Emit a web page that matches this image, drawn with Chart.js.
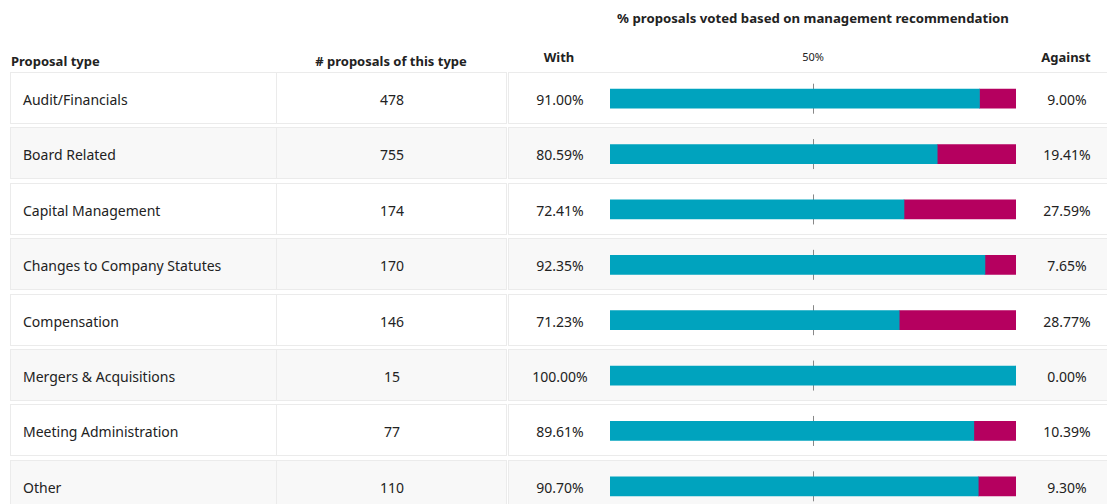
<html>
<head>
<script src="https://cdn.jsdelivr.net/npm/chart.js"></script>
<style>
body { margin:0; width:1107px; height:504px; overflow:hidden; background:#fff; font-family:"Noto Sans", sans-serif; color:#222; }
#wrap { position:relative; width:1107px; height:504px; overflow:hidden; }
.h { position:absolute; font-weight:bold; font-size:13px; white-space:nowrap; transform:translate(-50%,-50%); }
.row { position:absolute; left:10px; width:1110px; height:52px; }
.cell { position:absolute; top:0; height:50px; border:1px solid #ebebeb; box-sizing:content-box; }
.t { position:absolute; top:calc(50% + 1px); transform:translate(-50%,-50%); font-size:14px; white-space:nowrap; }
#barBox { position:absolute; left:610px; top:70.7px; width:406px; height:443px; }
</style>
</head>
<body>
<div id="wrap">
  <div class="h" style="left:813px;top:18px;font-size:13.2px;">% proposals voted based on management recommendation</div>
  <div class="h" style="left:11px;top:61px;transform:translate(0,-50%);">Proposal type</div>
  <div class="h" style="left:391px;top:61px;"># proposals of this type</div>
  <div class="h" style="left:559px;top:57px;">With</div>
  <div class="h" style="left:813px;top:56px;font-weight:normal;font-size:11px;">50%</div>
  <div class="h" style="left:1066px;top:57px;">Against</div>
  <div id="rows"></div>
  <div id="barBox"><canvas id="bars"></canvas></div>
</div>
<script>
var types = ["Audit/Financials", "Board Related", "Capital Management", "Changes to Company Statutes", "Compensation", "Mergers & Acquisitions", "Meeting Administration", "Other"];
var counts = [478, 755, 174, 170, 146, 15, 77, 110];
var withPct = [91.00, 80.59, 72.41, 92.35, 71.23, 100.00, 89.61, 90.70];
var againstPct = [9.00, 19.41, 27.59, 7.65, 28.77, 0.00, 10.39, 9.30];

// table rows
var html = "";
for (var i = 0; i < types.length; i++) {
  var rowTop = 72 + i * 55.4;
  var bg = (i % 2 == 1) ? "#f8f8f8" : "#ffffff";
  html += "<div class='row' style='top:" + rowTop + "px'>" +
    "<div class='cell' style='left:0;width:265px;background:" + bg + "'><div class='t' style='left:12px;transform:translate(0,-50%)'>" + types[i].replace("&", "&amp;") + "</div></div>" +
    "<div class='cell' style='left:266px;width:229px;background:" + bg + "'><div class='t' style='left:115px'>" + counts[i] + "</div></div>" +
    "<div class='cell' style='left:498px;width:620px;background:" + bg + "'>" +
      "<div class='t' style='left:51px'>" + withPct[i].toFixed(2) + "%</div>" +
      "<div class='t' style='left:558px'>" + againstPct[i].toFixed(2) + "%</div></div>" +
    "</div>";
}
document.getElementById("rows").innerHTML = html;

// 50% marker segments behind the bars
var midLine = {
  id: "midLine",
  beforeDatasetsDraw: function(chart) {
    var ctx = chart.ctx;
    var xs = chart.scales.x, ys = chart.scales.y;
    var x = Math.round(xs.getPixelForValue(50)) + 0.5;
    ctx.save();
    ctx.strokeStyle = "#888";
    ctx.lineWidth = 1;
    for (var i = 0; i < types.length; i++) {
      var y = ys.getPixelForValue(i);
      ctx.beginPath();
      ctx.moveTo(x, y - 15);
      ctx.lineTo(x, y + 15);
      ctx.stroke();
    }
    ctx.restore();
  }
};

new Chart(document.getElementById("bars"), {
  type: "bar",
  data: {
    labels: types,
    datasets: [
      { label: "With", data: withPct, backgroundColor: "#00a3be", barThickness: 19 },
      { label: "Against", data: againstPct, backgroundColor: "#b5005f", barThickness: 19 }
    ]
  },
  options: {
    indexAxis: "y",
    responsive: true,
    maintainAspectRatio: false,
    animation: false,
    layout: { padding: 0 },
    plugins: { legend: { display: false }, tooltip: { enabled: false } },
    scales: {
      x: { stacked: true, min: 0, max: 100, display: false },
      y: { stacked: true, display: false }
    }
  },
  plugins: [midLine]
});
</script>
</body>
</html>
